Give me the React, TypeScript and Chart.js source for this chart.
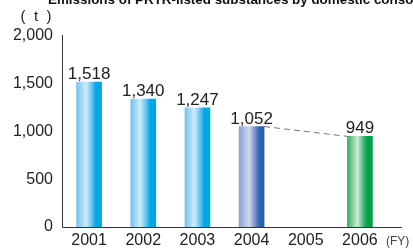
import React, { useEffect, useRef } from "react";
import { Chart, registerables } from "chart.js";

Chart.register(...registerables);

const title = "Emissions of PRTR-listed substances by domestic consolidated companies";
const years = ["2001", "2002", "2003", "2004", "2005", "2006"];
const emissions: (number | null)[] = [1518, 1340, 1247, 1052, null, 949];
const yTicks = [0, 500, 1000, 1500, 2000];
const yUnit = "(  t  )";
const xUnit = "(FY)";

const blueStops: [number, string][] = [[0, "#72c6f0"], [0.38, "#cfebfa"], [0.68, "#40b8ee"], [0.76, "#00a8e8"], [1, "#00a5e6"]];
const navyStops: [number, string][] = [[0, "#8a9fd5"], [0.4, "#d3daf0"], [0.7, "#5d80c4"], [0.8, "#3565b2"], [1, "#2a5dab"]];
const greenStops: [number, string][] = [[0, "#33b163"], [0.4, "#cfebd6"], [0.68, "#34b067"], [0.78, "#00a24c"], [1, "#009f49"]];
const barStops = [blueStops, blueStops, blueStops, navyStops, blueStops, greenStops];

const FONT = "'Liberation Sans', Arial, sans-serif";
const fmt = (v: number) => v.toLocaleString("en-US");

const gradients = {
  id: "gradients",
  beforeDatasetsDraw(chart: any) {
    const { ctx } = chart;
    const meta = chart.getDatasetMeta(0);
    meta.data.forEach((el: any, i: number) => {
      if (emissions[i] == null || !Number.isFinite(el.x) || !Number.isFinite(el.width)) return;
      const x0 = el.x - el.width / 2;
      const g = ctx.createLinearGradient(x0, 0, x0 + el.width, 0);
      barStops[i].forEach(([o, col]) => g.addColorStop(o, col));
      el.options = Object.assign({}, el.options, { backgroundColor: g });
    });
  },
};

const decor = {
  id: "decor",
  afterDraw(chart: any) {
    const { ctx, chartArea } = chart;
    const meta = chart.getDatasetMeta(0);
    ctx.save();
    // axes
    ctx.strokeStyle = "#333";
    ctx.lineWidth = 1;
    ctx.beginPath();
    ctx.moveTo(chartArea.left + 0.5, chartArea.top - 1);
    ctx.lineTo(chartArea.left + 0.5, chartArea.bottom + 0.5);
    ctx.lineTo(chartArea.right + 15, chartArea.bottom + 0.5);
    ctx.stroke();
    // value labels
    ctx.fillStyle = "#222";
    ctx.font = `17px ${FONT}`;
    ctx.textAlign = "center";
    ctx.textBaseline = "alphabetic";
    meta.data.forEach((el: any, i: number) => {
      const v = emissions[i];
      if (v == null) return;
      ctx.fillText(fmt(v), el.x, el.y - 3);
    });
    // dashed connector 2004 -> 2006
    const a = meta.data[3];
    const b = meta.data[5];
    ctx.strokeStyle = "#777";
    ctx.setLineDash([6, 4]);
    ctx.beginPath();
    ctx.moveTo(a.x + a.width / 2, a.y);
    ctx.lineTo(b.x - b.width / 2, b.y);
    ctx.stroke();
    ctx.setLineDash([]);
    // units
    ctx.font = `15px ${FONT}`;
    ctx.textAlign = "center";
    ctx.textBaseline = "middle";
    ctx.fillText(yUnit, 36, 17);
    ctx.font = `12px ${FONT}`;
    ctx.textAlign = "left";
    ctx.fillStyle = "#444";
    ctx.fillText(xUnit, chartArea.right - 1, chartArea.bottom + 15);
    // clipped title
    ctx.fillStyle = "#111";
    ctx.font = `bold 13.4px ${FONT}`;
    ctx.textAlign = "left";
    ctx.textBaseline = "alphabetic";
    ctx.fillText(title, 48, 3.5);
    ctx.restore();
  },
};

export default function App() {
  const ref = useRef<HTMLCanvasElement>(null);
  useEffect(() => {
    document.body.style.margin = "0";
    const canvas = ref.current!;
    const chart = new Chart(canvas, {
      type: "bar",
      data: {
        labels: years,
        datasets: [
          {
            data: emissions,
            barThickness: 25,
            backgroundColor: "#9fd8f4",
            borderWidth: 0,
          },
        ],
      },
      options: {
        animation: false,
        responsive: false,
        maintainAspectRatio: false,
        layout: { padding: { top: 36, right: 26, left: 0, bottom: 0 } },
        plugins: { legend: { display: false }, tooltip: { enabled: false }, title: { display: false } },
        scales: {
          x: {
            offset: true,
            grid: { display: false, drawTicks: false },
            border: { display: false },
            ticks: { color: "#222", font: { family: FONT, size: 16 }, padding: 4, maxRotation: 0, autoSkip: false },
            afterFit: (s: any) => { s.height = 21; },
          },
          y: {
            min: 0,
            max: 2000,
            afterBuildTicks: (s: any) => { s.ticks = yTicks.map((v) => ({ value: v })); },
            grid: { display: false, drawTicks: false },
            border: { display: false },
            ticks: { color: "#222", font: { family: FONT, size: 16 }, padding: 9, callback: (v: any) => fmt(Number(v)) },
            afterFit: (s: any) => { s.width = 62; },
          },
        },
      },
      plugins: [gradients, decor],
    });
    return () => chart.destroy();
  }, []);
  return (
    <div style={{ position: "fixed", left: 0, top: 0, width: 413, height: 248, background: "#fff" }}>
      <canvas ref={ref} width={413} height={248} style={{ width: 413, height: 248, display: "block" }} />
    </div>
  );
}
